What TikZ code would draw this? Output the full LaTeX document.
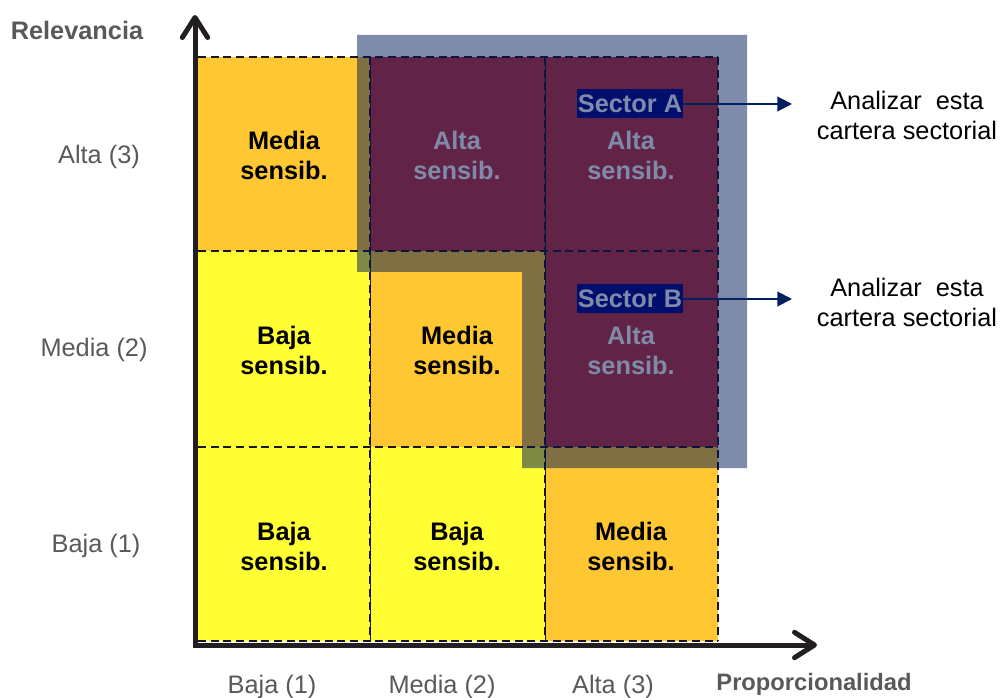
\documentclass[tikz,border=0pt]{standalone}
\usepackage{fontspec}
\setmainfont{Liberation Sans}
\usetikzlibrary{arrows.meta}

\definecolor{yel}{HTML}{FFFF33}
\definecolor{org}{HTML}{FFC832}
\definecolor{hot}{HTML}{C43337}
\definecolor{veil}{HTML}{001755}
\definecolor{gridc}{HTML}{161626}
\definecolor{navyarr}{HTML}{002060}
\definecolor{secbox}{HTML}{000587}
\definecolor{axisc}{HTML}{231F20}
\definecolor{lab}{HTML}{595959}

\tikzset{
  celltext/.style={align=center, font=\fontsize{19}{22.5}\selectfont\bfseries, inner sep=0pt},
  hottext/.style={celltext, text=white},
  sectag/.style={fill=secbox, text=white, font=\fontsize{19}{22.5}\selectfont\bfseries,
                 inner xsep=0.5pt, inner ysep=0pt, minimum height=21.75pt},
  axlabel/.style={text=lab, font=\fontsize{19}{22.5}\selectfont, inner sep=0pt},
  axtitle/.style={text=lab, font=\fontsize{19}{22.5}\selectfont\bfseries, inner sep=0pt},
  note/.style={align=center, font=\fontsize{19}{22.5}\selectfont, inner sep=0pt},
  dashline/.style={draw=gridc, line width=1.8pt, dash pattern=on 6pt off 3.5pt},
  thinline/.style={draw=gridc, line width=0.6pt},
  pointer/.style={draw=navyarr, line width=1.5pt, -{Triangle[length=11pt,width=11pt]}},
  axis/.style={draw=axisc, line width=3.75pt, line join=miter,
               {Straight Barb[length=15pt,width=19pt,line cap=round,line join=round]}-{Straight Barb[length=15pt,width=19pt,line cap=round,line join=round]}},
}

\begin{document}
\begin{tikzpicture}[x=0.75pt, y=-0.75pt]
\useasboundingbox (0,0) rectangle (1002,698);

% cell fills
\fill[org] (198,57)  rectangle (370,251);
\fill[hot] (370,57)  rectangle (545,251);
\fill[hot] (545,57)  rectangle (718,251);
\fill[yel] (198,251) rectangle (370,447);
\fill[org] (370,251) rectangle (545,447);
\fill[hot] (545,251) rectangle (718,447);
\fill[yel] (198,447) rectangle (370,641);
\fill[yel] (370,447) rectangle (545,641);
\fill[org] (545,447) rectangle (718,641);

% grid lines
\draw[thinline] (370,57) -- (370,641);
\draw[thinline] (545,57) -- (545,641);
\draw[dashline] (370,57) -- (370,641);
\draw[dashline] (545,57) -- (545,641);
\draw[dashline] (718,57) -- (718,641);
\draw[dashline] (198,57)  -- (718,57);
\draw[dashline] (198,251) -- (718,251);
\draw[dashline] (198,447) -- (718,447);
\draw[dashline] (198,641) -- (718,641);

% cell labels
\node[celltext]  (t11) at (284,155) {Media\\sensib.};
\node[hottext]   (t12) at (457,155) {Alta\\sensib.};
\node[hottext]   (t13) at (631,155) {Alta\\sensib.};
\node[celltext]  (t21) at (284,350) {Baja\\sensib.};
\node[celltext]  (t22) at (457,350) {Media\\sensib.};
\node[hottext]   (t23) at (631,350) {Alta\\sensib.};
\node[celltext]  (t31) at (284,546) {Baja\\sensib.};
\node[celltext]  (t32) at (457,546) {Baja\\sensib.};
\node[celltext]  (t33) at (631,546) {Media\\sensib.};

% sector tags
\node[sectag] (secA) at (630,104) {Sector A};
\node[sectag] (secB) at (630,299) {Sector B};

% translucent high-sensitivity zone
\fill[veil, opacity=0.5] (357,35) -- (747,35) -- (747,468) -- (522,468)
  -- (522,272) -- (357,272) -- cycle;

% pointers to the notes
\coordinate (endA) at (792,104);
\coordinate (endB) at (792,299);
\draw[pointer] (secA.east) -- (endA);
\draw[pointer] (secB.east) -- (endB);
\node[note] (noteA) at (907,115) {Analizar\ \ esta\\cartera sectorial};
\node[note] (noteB) at (907,302) {Analizar\ \ esta\\cartera sectorial};

% axes
\coordinate (ytip) at (195,15);
\coordinate (orig) at (195,645);
\coordinate (xtip) at (817,645);
\draw[axis] (ytip) -- (orig) -- (xtip);

% axis titles and levels
\node[axtitle] (ttlY) at (77,30)  {Relevancia};
\node[axtitle, font=\fontsize{17.8}{21}\selectfont\bfseries] (ttlX) at (814,684) {Proporcionalidad};
\node[axlabel] (y3) at (99,157) {Alta (3)};
\node[axlabel] (y2) at (94,350) {Media (2)};
\node[axlabel] (y1) at (96,546) {Baja (1)};
\node[axlabel] (x1) at (272,687) {Baja (1)};
\node[axlabel] (x2) at (442,687) {Media (2)};
\node[axlabel] (x3) at (613,687) {Alta (3)};
\end{tikzpicture}
\end{document}
